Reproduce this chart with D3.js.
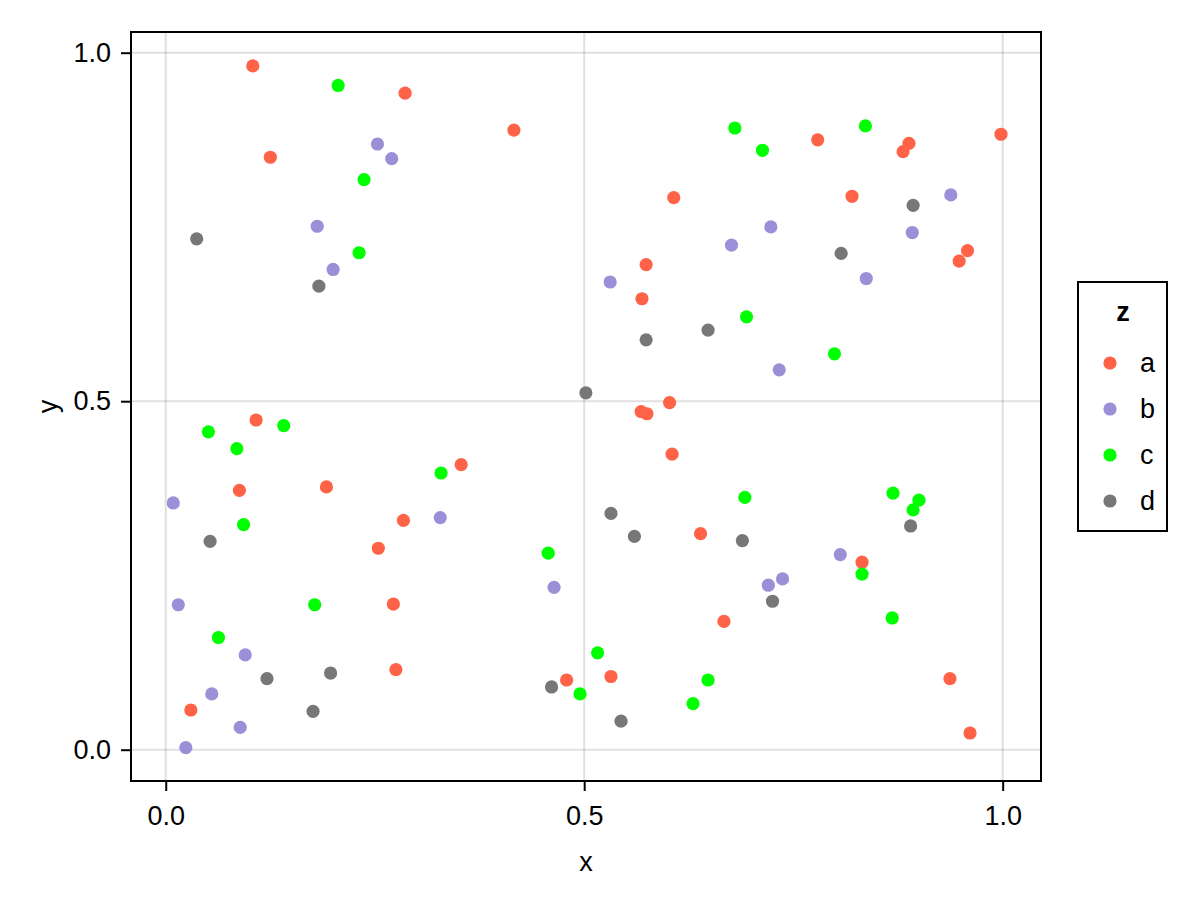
<!DOCTYPE html>
<html lang="en">
<head>
<meta charset="utf-8">
<title>Scatter by group z</title>
<script src="https://d3js.org/d3.v7.min.js"></script>
<style>
  body { margin: 0; background: #fff; }
  text { font-family: "Liberation Sans", Arial, sans-serif; fill: #000; }
</style>
</head>
<body>
<script>
// data (group a, b, c, d)
var groups = ["a", "b", "c", "d"];
var colors = ["#ff6347", "#9b90d8", "#00ff00", "#777777"];

var ax = [0.104, 0.286, 0.416, 0.125, 0.779, 0.888, 0.881, 0.998, 0.607, 0.820, 0.958, 0.948,
          0.574, 0.569, 0.602, 0.568, 0.575, 0.605, 0.639, 0.667, 0.532, 0.479, 0.832, 0.937,
          0.961, 0.108, 0.353, 0.088, 0.192, 0.284, 0.254, 0.272, 0.275, 0.030];
var ay = [0.981, 0.942, 0.889, 0.850, 0.875, 0.870, 0.858, 0.883, 0.792, 0.794, 0.716, 0.701,
          0.696, 0.647, 0.498, 0.485, 0.482, 0.424, 0.310, 0.184, 0.105, 0.100, 0.269, 0.102,
          0.024, 0.473, 0.409, 0.372, 0.377, 0.329, 0.289, 0.209, 0.115, 0.057];

var bx = [0.253, 0.270, 0.181, 0.200, 0.938, 0.723, 0.676, 0.892, 0.531, 0.837, 0.733,
          0.009, 0.328, 0.464, 0.015, 0.095, 0.055, 0.089, 0.024, 0.806, 0.737, 0.720];
var by = [0.869, 0.848, 0.751, 0.689, 0.796, 0.750, 0.724, 0.742, 0.671, 0.676, 0.545,
          0.354, 0.333, 0.233, 0.208, 0.136, 0.080, 0.032, 0.003, 0.280, 0.245, 0.236];

var cx = [0.206, 0.237, 0.231, 0.680, 0.836, 0.713, 0.694, 0.799, 0.051, 0.141, 0.085, 0.329, 0.093,
          0.457, 0.178, 0.063, 0.495, 0.692, 0.869, 0.900, 0.893, 0.832, 0.868, 0.516, 0.648, 0.630];
var cy = [0.953, 0.818, 0.713, 0.892, 0.895, 0.860, 0.621, 0.568, 0.456, 0.465, 0.432, 0.397, 0.323,
          0.282, 0.208, 0.161, 0.080, 0.362, 0.368, 0.358, 0.344, 0.252, 0.189, 0.139, 0.100, 0.066];

var dx = [0.037, 0.183, 0.502, 0.893, 0.807, 0.648, 0.574, 0.053, 0.121,
          0.197, 0.461, 0.176, 0.532, 0.560, 0.689, 0.890, 0.725, 0.544];
var dy = [0.733, 0.665, 0.512, 0.781, 0.712, 0.602, 0.588, 0.299, 0.102,
          0.110, 0.090, 0.055, 0.339, 0.306, 0.300, 0.321, 0.213, 0.041];

var xTicks = [0, 0.5, 1];
var yTicks = [0, 0.5, 1];
var xLimits = [-0.0415, 1.0458];
var yLimits = [-0.0449, 1.0297];

var series = [
  { name: groups[0], color: colors[0], xs: ax, ys: ay },
  { name: groups[1], color: colors[1], xs: bx, ys: by },
  { name: groups[2], color: colors[2], xs: cx, ys: cy },
  { name: groups[3], color: colors[3], xs: dx, ys: dy }
];

var w = 1200, h = 900;
// plot frame (don't call it "top", that's window.top)
var plotL = 131, plotR = 1041, plotT = 32, plotB = 781;
var fontPx = "27px";
var dotR = 6.6;

var svg = d3.select("body").append("svg")
  .attr("width", w)
  .attr("height", h);

var x = d3.scaleLinear().domain(xLimits).range([plotL, plotR]);
var y = d3.scaleLinear().domain(yLimits).range([plotB, plotT]);

// grid
svg.append("g").selectAll("line").data(xTicks).enter().append("line")
  .attr("x1", function(d) { return x(d); })
  .attr("x2", function(d) { return x(d); })
  .attr("y1", plotT).attr("y2", plotB)
  .attr("stroke", "rgba(0,0,0,0.12)")
  .attr("stroke-width", 2);
svg.append("g").selectAll("line").data(yTicks).enter().append("line")
  .attr("y1", function(d) { return y(d); })
  .attr("y2", function(d) { return y(d); })
  .attr("x1", plotL).attr("x2", plotR)
  .attr("stroke", "rgba(0,0,0,0.12)")
  .attr("stroke-width", 2);

// points
series.forEach(function(s) {
  svg.append("g").selectAll("circle")
    .data(d3.range(s.xs.length))
    .enter().append("circle")
    .attr("cx", function(i) { return x(s.xs[i]); })
    .attr("cy", function(i) { return y(s.ys[i]); })
    .attr("r", dotR)
    .attr("fill", s.color);
});

// axes
var xAxis = d3.axisBottom(x).tickValues(xTicks).tickFormat(d3.format(".1f"))
  .tickSize(10).tickPadding(15);
var yAxis = d3.axisLeft(y).tickValues(yTicks).tickFormat(d3.format(".1f"))
  .tickSize(10).tickPadding(10);

var gx = svg.append("g").attr("transform", "translate(0," + plotB + ")").call(xAxis);
var gy = svg.append("g").attr("transform", "translate(" + plotL + ",0)").call(yAxis);
[gx, gy].forEach(function(g) {
  g.select(".domain").remove();
  g.selectAll(".tick line").attr("stroke", "#000").attr("stroke-width", 2);
  g.selectAll(".tick text").style("font-size", fontPx)
    .style("font-family", "'Liberation Sans', Arial, sans-serif").attr("fill", "#000");
});

// frame
svg.append("rect")
  .attr("x", plotL).attr("y", plotT)
  .attr("width", plotR - plotL).attr("height", plotB - plotT)
  .attr("fill", "none").attr("stroke", "#000").attr("stroke-width", 2);

// axis labels
svg.append("text")
  .attr("x", (plotL + plotR) / 2).attr("y", 871)
  .attr("text-anchor", "middle")
  .style("font-size", fontPx)
  .text("x");
svg.append("text")
  .attr("transform", "translate(57," + (plotT + plotB) / 2 + ") rotate(-90)")
  .attr("text-anchor", "middle")
  .style("font-size", fontPx)
  .text("y");

// legend
var lg = svg.append("g");
lg.append("rect")
  .attr("x", 1078).attr("y", 282)
  .attr("width", 89).attr("height", 249)
  .attr("fill", "#fff").attr("stroke", "#000").attr("stroke-width", 2);
lg.append("text")
  .attr("x", 1123).attr("y", 321)
  .attr("text-anchor", "middle")
  .style("font-size", fontPx).style("font-weight", "bold")
  .text("z");
var items = lg.selectAll("g.item").data(series).enter().append("g")
  .attr("class", "item")
  .attr("transform", function(d, i) { return "translate(0," + (363 + i * 46) + ")"; });
items.append("circle")
  .attr("cx", 1110).attr("cy", 0).attr("r", dotR)
  .attr("fill", function(d) { return d.color; });
items.append("text")
  .attr("x", 1140).attr("y", 0)
  .attr("dy", "0.35em")
  .style("font-size", fontPx)
  .text(function(d) { return d.name; });
</script>
</body>
</html>
